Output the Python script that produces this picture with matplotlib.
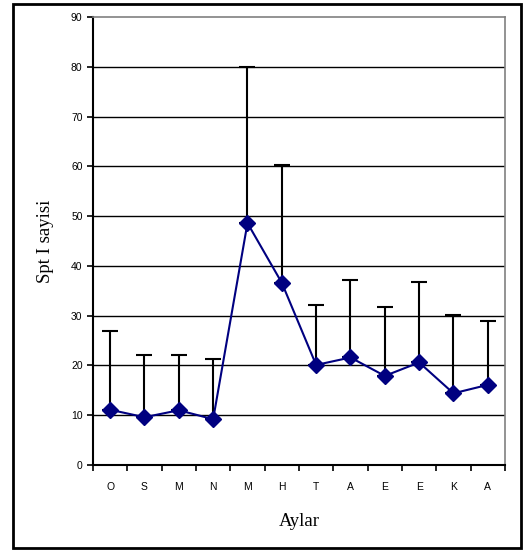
import matplotlib.pyplot as plt
import numpy as np
from matplotlib.patches import Rectangle

# Monthly values
months = ["O", "S", "M", "N", "M", "H", "T", "A", "E", "E", "K", "A"]
means = [11.1, 9.6, 11.0, 9.2, 48.6, 36.6, 20.1, 21.6, 17.9, 20.6, 14.4, 16.1]
upper = [26.9, 22.1, 22.1, 21.2, 80.0, 60.3, 32.2, 37.1, 31.8, 36.7, 30.2, 29.0]

fig = plt.figure(figsize=(5.26, 5.52), dpi=100)
ax = fig.add_axes([0.1768, 0.1576, 0.7832, 0.8116])

x = np.arange(len(months))
err_up = np.array(upper) - np.array(means)
ax.errorbar(x, means, yerr=[np.zeros(len(x)), err_up], fmt="none",
            ecolor="black", elinewidth=1.5, capsize=5.5, capthick=1.5, zorder=2)
ax.plot(x, means, color="#000080", lw=1.5, marker="D", ms=8,
        markerfacecolor="#000080", markeredgecolor="#000080", zorder=3)

ax.set_xlim(-0.5, len(months) - 0.5)
ax.set_ylim(0, 90)
ax.set_yticks(np.arange(0, 91, 10))
for yv in range(10, 90, 10):
    ax.axhline(yv, color="black", lw=1.0, zorder=1)

ax.set_xticks(x)
ax.set_xticklabels(months, fontfamily="Liberation Sans", fontsize=7.5)
ax.set_xticks(np.arange(-0.5, len(months), 1), minor=True)
ax.tick_params(axis="x", which="major", length=0, pad=12)
ax.tick_params(axis="x", which="minor", length=4, width=1.2, direction="out")
ax.tick_params(axis="y", length=4, width=1.2, direction="out", labelsize=7.5)
for lab in ax.get_yticklabels():
    lab.set_fontfamily("Liberation Sans")

ax.spines["left"].set_linewidth(1.5)
ax.spines["bottom"].set_linewidth(1.5)
ax.spines["top"].set_color("#808080")
ax.spines["right"].set_color("#808080")
ax.spines["top"].set_linewidth(1.2)
ax.spines["right"].set_linewidth(1.2)

ax.set_ylabel("Spt I sayisi", fontfamily="Liberation Serif", fontsize=13.5, labelpad=12)
ax.set_xlabel("Aylar", fontfamily="Liberation Serif", fontsize=13.5, labelpad=15)

fig.patches.append(Rectangle((13 / 526, 4 / 552), 508 / 526, 544 / 552,
                             transform=fig.transFigure, fill=False,
                             edgecolor="black", lw=2))

fig.savefig("out.png", dpi=100)
